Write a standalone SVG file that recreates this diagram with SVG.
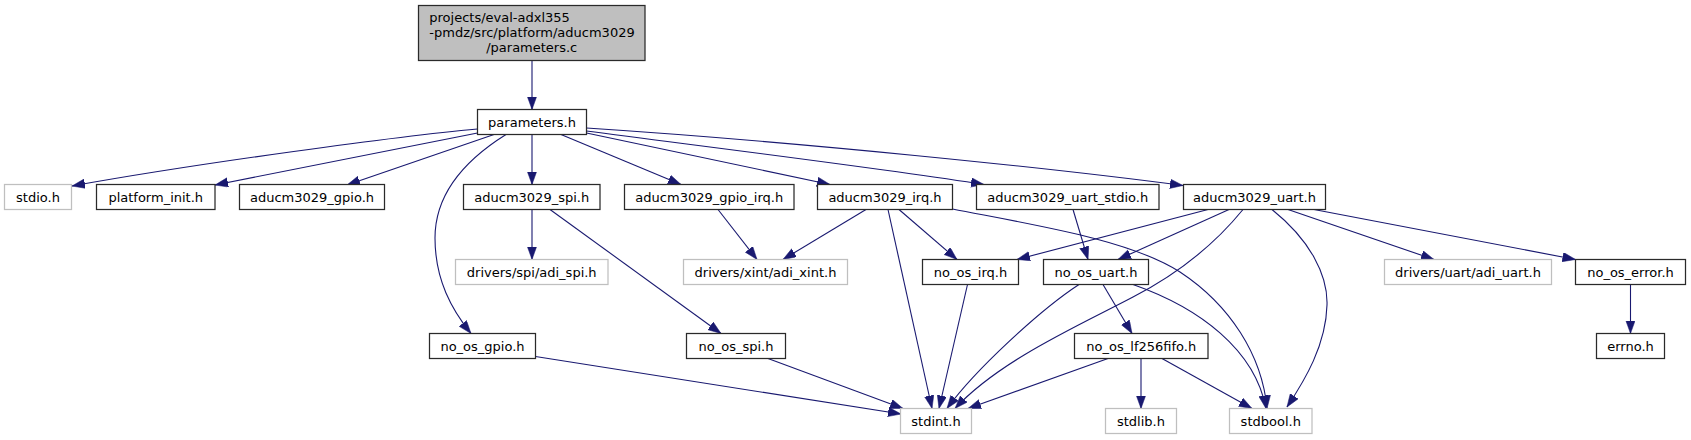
<svg xmlns="http://www.w3.org/2000/svg" width="1691" height="440" viewBox="0 0 1691 440">
<style>
text{font-family:"DejaVu Sans","Liberation Sans",sans-serif;font-size:13px;text-anchor:middle;fill:#000}
.n rect{fill:#fff;stroke:#2a2a2a;stroke-width:1.25}
.g rect{fill:#fff;stroke:#bfbfbf;stroke-width:1.25}
.r rect{fill:#bfbfbf;stroke:#2a2a2a;stroke-width:1.25}
#edges path{fill:none;stroke:#191970;stroke-width:1.1;marker-end:url(#a)}
</style>
<defs>
<marker id="a" markerUnits="userSpaceOnUse" markerWidth="14" markerHeight="10" refX="13" refY="4.7" orient="auto">
<path d="M0,0 L13,4.7 L0,9.4 Z" fill="#191970" stroke="#191970" stroke-width="0.5"/>
</marker>
</defs>
<rect width="1691" height="440" fill="#fff"/>
<g id="edges">
<path d="M532,60.5 L532,109.5"/>
<path d="M477.5,129 C400,136 200,163 72,186"/>
<path d="M477.5,133 L215,185"/>
<path d="M494,134.5 L347,185"/>
<path d="M506,134.5 C462,162 435,195 435,238 C435,280 452,310 471,333.5"/>
<path d="M532,134.5 L532,184.5"/>
<path d="M561,134.5 L681,184.5"/>
<path d="M586.5,133 L830,184.5"/>
<path d="M586.5,131 C700,146 880,168 984,184.5"/>
<path d="M586.5,128 C800,142 1050,168 1183,185.5"/>
<path d="M532,209.5 L532,259.5"/>
<path d="M550,209.5 L721,333.5"/>
<path d="M718,209.5 L757,259.5"/>
<path d="M866,209.5 L783,259.5"/>
<path d="M888,209.5 L932,408.5"/>
<path d="M899,209.5 L957,259.5"/>
<path d="M952.5,209 C1040,226 1130,240 1180,272 C1230,305 1262,355 1267,408.5"/>
<path d="M1073,209.5 L1088,259.5"/>
<path d="M1208,209.5 L1017,259.5"/>
<path d="M1229,209.5 L1118,259.5"/>
<path d="M1243,209.5 C1210,250 1170,278 1133,297 C1080,325 1000,360 955,408.5"/>
<path d="M1272,209.5 C1310,240 1328,275 1327,305 C1326,345 1305,380 1287,407"/>
<path d="M1288,209.5 L1434,259.5"/>
<path d="M1314,209.5 L1575.5,259.5"/>
<path d="M967.5,284.5 L939,408.5"/>
<path d="M1079,284.5 C1040,310 975,370 947,408.5"/>
<path d="M1103,284.5 L1132,333.5"/>
<path d="M1133,284.5 C1200,308 1255,350 1266,408.5"/>
<path d="M1630.5,284.5 L1630.5,333.5"/>
<path d="M535.5,356.5 L901,414"/>
<path d="M768,358.5 L903,408.5"/>
<path d="M1108,358.5 L968,408.5"/>
<path d="M1141,358.5 L1141,408.5"/>
<path d="M1162,358.5 L1252,408.5"/>
</g>
<g id="root" class="r"><rect x="418.5" y="5.5" width="226.5" height="55"/>
<text x="429.3" y="21.8" style="text-anchor:start">projects/eval-adxl355</text>
<text x="429.3" y="36.7" style="text-anchor:start">-pmdz/src/platform/aducm3029</text>
<text x="531.75" y="51.6">/parameters.c</text></g>
<g id="parameters_h" class="n"><rect x="477.5" y="109.5" width="109" height="25"/><text x="532" y="126.8">parameters.h</text></g>
<g id="stdio_h" class="g"><rect x="4.5" y="184.5" width="67" height="25"/><text x="38" y="201.8">stdio.h</text></g>
<g id="platform_init_h" class="n"><rect x="96.5" y="184.5" width="118.5" height="25"/><text x="155.75" y="201.8">platform_init.h</text></g>
<g id="aducm3029_gpio_h" class="n"><rect x="239.5" y="184.5" width="145" height="25"/><text x="312" y="201.8">aducm3029_gpio.h</text></g>
<g id="aducm3029_spi_h" class="n"><rect x="463.5" y="184.5" width="136.5" height="25"/><text x="531.75" y="201.8">aducm3029_spi.h</text></g>
<g id="aducm3029_gpio_irq_h" class="n"><rect x="624.5" y="184.5" width="169.5" height="25"/><text x="709.25" y="201.8">aducm3029_gpio_irq.h</text></g>
<g id="aducm3029_irq_h" class="n"><rect x="817.5" y="184.5" width="135" height="25"/><text x="885" y="201.8">aducm3029_irq.h</text></g>
<g id="aducm3029_uart_stdio_h" class="n"><rect x="976.5" y="184.5" width="182.5" height="25"/><text x="1067.75" y="201.8">aducm3029_uart_stdio.h</text></g>
<g id="aducm3029_uart_h" class="n"><rect x="1183.5" y="184.5" width="142" height="25"/><text x="1254.5" y="201.8">aducm3029_uart.h</text></g>
<g id="adi_spi_h" class="g"><rect x="455.5" y="259.5" width="152.5" height="25"/><text x="531.75" y="276.8">drivers/spi/adi_spi.h</text></g>
<g id="adi_xint_h" class="g"><rect x="683.5" y="259.5" width="164" height="25"/><text x="765.5" y="276.8">drivers/xint/adi_xint.h</text></g>
<g id="no_os_irq_h" class="n"><rect x="922.5" y="259.5" width="96" height="25"/><text x="970.5" y="276.8">no_os_irq.h</text></g>
<g id="no_os_uart_h" class="n"><rect x="1043.5" y="259.5" width="105" height="25"/><text x="1096" y="276.8">no_os_uart.h</text></g>
<g id="adi_uart_h" class="g"><rect x="1384.5" y="259.5" width="167" height="25"/><text x="1468" y="276.8">drivers/uart/adi_uart.h</text></g>
<g id="no_os_error_h" class="n"><rect x="1575.5" y="259.5" width="110" height="25"/><text x="1630.5" y="276.8">no_os_error.h</text></g>
<g id="no_os_gpio_h" class="n"><rect x="429.5" y="333.5" width="106" height="25"/><text x="482.5" y="350.8">no_os_gpio.h</text></g>
<g id="no_os_spi_h" class="n"><rect x="686.5" y="333.5" width="99" height="25"/><text x="736" y="350.8">no_os_spi.h</text></g>
<g id="no_os_lf256fifo_h" class="n"><rect x="1074.5" y="333.5" width="133.5" height="25"/><text x="1141.25" y="350.8">no_os_lf256fifo.h</text></g>
<g id="errno_h" class="n"><rect x="1596.5" y="333.5" width="68" height="25"/><text x="1630.5" y="350.8">errno.h</text></g>
<g id="stdint_h" class="g"><rect x="900.5" y="408.5" width="71" height="25"/><text x="936" y="425.8">stdint.h</text></g>
<g id="stdlib_h" class="g"><rect x="1105.5" y="408.5" width="71" height="25"/><text x="1141" y="425.8">stdlib.h</text></g>
<g id="stdbool_h" class="g"><rect x="1229.5" y="408.5" width="82.5" height="25"/><text x="1270.75" y="425.8">stdbool.h</text></g>
</svg>
